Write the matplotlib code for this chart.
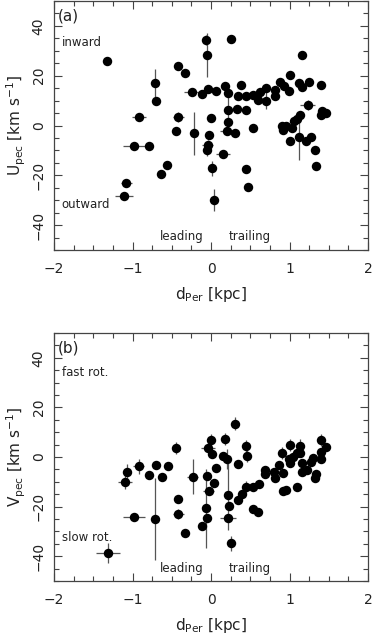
import numpy as np
import matplotlib
matplotlib.use('Agg')
import matplotlib.pyplot as plt
from matplotlib.ticker import MultipleLocator

# panel (a): d_Per [kpc], U_pec [km/s] and errors
ua_x = [-1.32, -0.07, -0.05, 0.25, 1.16, -0.42, -0.33, -0.71, -0.70, 1.01,
        0.88, 0.93, 0.99, 1.12, 1.16, 1.25, 1.40, -0.24, -0.12, -0.04,
        0.07, 0.18, 0.22, 0.38, 0.34, 0.45, 0.54, 0.62, 0.70, 0.81,
        0.81, 0.60, 0.70, 1.23, 1.40, 1.41, 1.47, -0.92, -0.42, 0.00,
        0.22, 0.33, 0.45, 0.22, 0.90, 0.96, 0.92, 1.03, 1.06, 1.09,
        1.14, 0.54, -0.45, -0.22, -0.02, 0.20, 0.30, 1.01, 1.12, 1.21,
        1.28, 1.33, -0.98, -0.79, -0.04, -0.05, 0.15, 1.34, -0.56, -0.64,
        0.01, 0.45, 0.47, -1.08, -1.11, 0.04]
ua_y = [26.1, 34.2, 28.3, 34.6, 28.3, 23.7, 21.0, 17.1, 10.0, 20.4,
        17.6, 16.0, 13.7, 17.1, 15.3, 17.3, 16.4, 13.3, 12.8, 14.8,
        13.7, 15.7, 13.1, 16.4, 11.7, 11.7, 12.4, 13.4, 15.0, 14.4,
        12.0, 10.1, 10.0, 8.3, 4.4, 5.7, 5.1, 3.6, 3.5, 3.0,
        6.1, 6.8, 6.2, 1.5, 0.0, 0.0, -2.0, -1.2, 2.0, 2.8,
        4.3, -1.0, -2.3, -3.2, -4.0, -2.3, -3.2, -6.3, -4.8, -6.3,
        -4.5, -10.0, -8.3, -8.3, -7.9, -9.9, -11.3, -16.3, -16.0, -19.5,
        -17.1, -17.6, -24.8, -23.1, -28.5, -30.0]
ua_xerr = [0.03, 0.05, 0.03, 0.03, 0.03, 0.03, 0.03, 0.03, 0.03, 0.03,
           0.03, 0.03, 0.03, 0.03, 0.03, 0.03, 0.03, 0.10, 0.03, 0.03,
           0.03, 0.03, 0.03, 0.03, 0.03, 0.03, 0.03, 0.03, 0.03, 0.03,
           0.03, 0.03, 0.03, 0.09, 0.03, 0.03, 0.03, 0.09, 0.07, 0.03,
           0.03, 0.03, 0.03, 0.03, 0.03, 0.03, 0.03, 0.03, 0.03, 0.03,
           0.03, 0.03, 0.03, 0.03, 0.03, 0.09, 0.03, 0.03, 0.03, 0.03,
           0.03, 0.03, 0.14, 0.04, 0.07, 0.03, 0.09, 0.03, 0.03, 0.03,
           0.03, 0.03, 0.03, 0.07, 0.11, 0.03]
ua_yerr = [1.0, 2.0, 9.0, 1.0, 1.0, 1.0, 1.0, 5.5, 1.5, 1.0,
           1.0, 1.0, 1.0, 1.0, 1.0, 1.0, 1.0, 1.0, 1.0, 1.0,
           1.0, 1.0, 1.0, 1.0, 1.0, 1.0, 1.0, 1.0, 1.0, 1.0,
           1.0, 1.0, 3.5, 2.0, 1.0, 1.0, 1.0, 1.0, 2.0, 1.0,
           9.0, 1.0, 1.0, 1.0, 1.0, 1.0, 1.0, 1.0, 1.0, 1.0,
           1.0, 1.0, 1.0, 8.5, 1.0, 1.0, 1.0, 1.0, 9.0, 1.0,
           1.0, 1.0, 1.5, 1.0, 2.0, 2.5, 1.0, 1.0, 1.0, 1.0,
           3.0, 1.0, 1.0, 1.5, 1.5, 4.5]

# panel (b): d_Per [kpc], V_pec [km/s] and errors
vb_x = [-1.31, -1.07, -1.10, -0.92, -0.79, -0.70, -0.63, -0.55, -0.44, -0.98,
        -0.71, -0.42, -0.42, -0.33, -0.23, -0.12, -0.06, -0.05, -0.05, -0.03,
        0.04, 0.00, -0.04, 0.01, 0.07, 0.15, 0.18, 0.21, 0.31, 0.34,
        0.44, 0.46, 0.22, 0.23, 0.22, 0.25, 0.34, 0.39, 0.45, 0.54,
        0.61, 0.54, 0.60, 0.69, 0.69, 0.80, 0.81, 0.87, 0.92, 0.90,
        1.01, 0.99, 1.01, 1.04, 1.10, 1.13, 1.14, 1.16, 1.16, 1.22,
        1.28, 1.30, 1.34, 1.33, 1.40, 1.40, 1.40, 1.47, 0.92, 0.96,
        1.09]
vb_y = [-38.8, -5.9, -9.9, -3.7, -7.3, -3.3, -8.1, -3.8, 3.6, -24.1,
        -24.9, -16.9, -23.1, -30.5, -7.9, -27.8, -20.7, -24.7, -7.5, -13.8,
        -10.6, 6.9, 3.6, 1.2, -4.6, 0.5, 7.3, -0.9, 13.5, -2.9,
        4.3, 0.4, -15.3, -19.8, -24.7, -34.8, -17.2, -15.1, -12.0, -11.9,
        -10.8, -21.1, -22.1, -5.1, -7.0, -5.9, -8.6, -3.3, -6.3, 1.5,
        4.8, -0.9, -2.5, 0.1, 1.5, 4.3, 1.5, -2.5, -5.9, -5.3,
        -1.9, -0.3, -7.0, -8.6, 6.9, 2.1, -0.9, 3.9, -13.8, -13.4,
        -12.0]
vb_xerr = [0.15, 0.03, 0.09, 0.07, 0.05, 0.05, 0.03, 0.05, 0.03, 0.14,
           0.03, 0.03, 0.07, 0.03, 0.07, 0.03, 0.03, 0.03, 0.03, 0.07,
           0.03, 0.03, 0.09, 0.03, 0.03, 0.03, 0.03, 0.03, 0.03, 0.03,
           0.03, 0.03, 0.03, 0.03, 0.10, 0.03, 0.03, 0.03, 0.03, 0.03,
           0.03, 0.03, 0.03, 0.03, 0.03, 0.03, 0.03, 0.03, 0.03, 0.03,
           0.03, 0.03, 0.03, 0.03, 0.03, 0.03, 0.03, 0.03, 0.03, 0.03,
           0.03, 0.03, 0.03, 0.03, 0.03, 0.03, 0.03, 0.03, 0.03, 0.03,
           0.03]
vb_yerr = [4.0, 3.0, 3.0, 3.0, 1.5, 1.5, 1.5, 1.5, 2.5, 1.5,
           16.5, 1.5, 2.0, 1.5, 7.0, 1.5, 16.0, 1.5, 1.5, 1.5,
           1.5, 2.5, 1.5, 1.5, 1.5, 1.5, 2.5, 4.0, 2.5, 1.5,
           2.5, 2.5, 14.0, 1.5, 1.5, 3.0, 1.5, 1.5, 2.5, 1.5,
           1.5, 1.5, 1.5, 1.5, 1.5, 1.5, 1.5, 1.5, 1.5, 2.5,
           2.5, 1.5, 1.5, 1.5, 1.5, 3.0, 1.5, 1.5, 1.5, 1.5,
           1.5, 1.5, 1.5, 1.5, 2.5, 1.5, 1.5, 1.5, 1.5, 1.5,
           1.5]

txt_col = '#222222'
plt.rcParams['font.family'] = 'DejaVu Sans'
plt.rcParams['mathtext.fontset'] = 'dejavusans'

fig = plt.figure(figsize=(3.74, 6.42), dpi=100)
ax_a = fig.add_axes([54/374, 1 - 250/642, 314/374, 249/642])
ax_b = fig.add_axes([54/374, 1 - 581/642, 314/374, 248/642])


def style_axis(ax, ylab):
    ax.set_xlim(-2, 2)
    ax.set_ylim(-50, 50)
    ax.xaxis.set_major_locator(MultipleLocator(1))
    ax.xaxis.set_minor_locator(MultipleLocator(0.25))
    ax.yaxis.set_major_locator(MultipleLocator(20))
    ax.yaxis.set_minor_locator(MultipleLocator(5))
    ax.tick_params(which='both', direction='in', top=True, right=True,
                   color='#444444', width=0.8)
    ax.tick_params(which='major', length=6)
    ax.tick_params(which='minor', length=3.5)
    ax.tick_params(axis='x', labelsize=10, pad=9, labelcolor=txt_col)
    ax.tick_params(axis='y', labelsize=10, pad=6, labelcolor=txt_col)
    for lab in ax.get_yticklabels():
        lab.set_rotation(90)
        lab.set_va('center')
    for s in ax.spines.values():
        s.set_color('#444444')
        s.set_linewidth(0.9)
    ax.set_xlabel(r'd$_{\rm Per}$ [kpc]', fontsize=11, color=txt_col, labelpad=6)
    ax.set_ylabel(ylab, fontsize=11, color=txt_col, labelpad=3)


def draw(ax, x, y, xe, ye):
    ax.errorbar(x, y, xerr=xe, yerr=ye, fmt='none', ecolor='#555555',
                elinewidth=0.9, capsize=0, zorder=2)
    ax.plot(x, y, 'o', color='black', markersize=6.8, markeredgewidth=0, zorder=3)


draw(ax_a, ua_x, ua_y, ua_xerr, ua_yerr)
draw(ax_b, vb_x, vb_y, vb_xerr, vb_yerr)

style_axis(ax_a, r'U$_{\rm pec}$ [km s$^{-1}$]')
style_axis(ax_b, r'V$_{\rm pec}$ [km s$^{-1}$]')

kw = dict(fontsize=8.5, color=txt_col)
ax_a.text(-1.95, 44, '(a)', fontsize=11, color=txt_col, va='center')
ax_a.text(-1.9, 33.2, 'inward', va='center', **kw)
ax_a.text(-1.9, -31.6, 'outward', va='center', **kw)
ax_a.text(-0.65, -44.4, 'leading', va='center', **kw)
ax_a.text(0.22, -44.4, 'trailing', va='center', **kw)

ax_b.text(-1.95, 44, '(b)', fontsize=11, color=txt_col, va='center')
ax_b.text(-1.9, 33.9, 'fast rot.', va='center', **kw)
ax_b.text(-1.9, -32.3, 'slow rot.', va='center', **kw)
ax_b.text(-0.65, -44.8, 'leading', va='center', **kw)
ax_b.text(0.22, -44.8, 'trailing', va='center', **kw)

fig.savefig('out.png', dpi=100)
